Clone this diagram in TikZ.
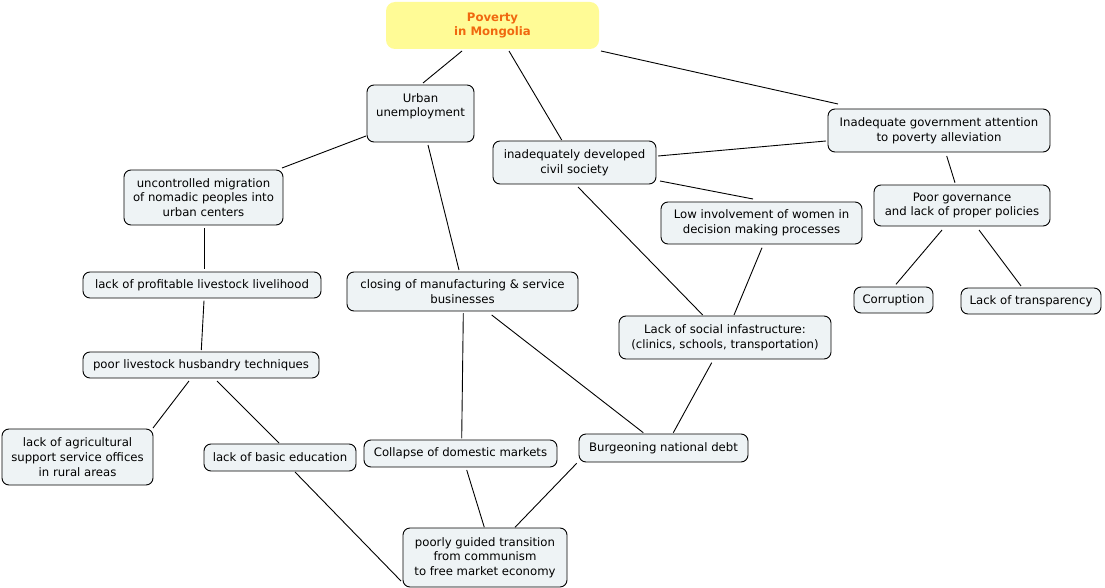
\documentclass[tikz,border=0pt]{standalone}
\usepackage{fontspec}
\setmainfont{DejaVu Sans}
\usetikzlibrary{calc}
\definecolor{boxfill}{HTML}{EEF3F5}
\definecolor{rootfill}{HTML}{FFFB96}
\definecolor{roottext}{HTML}{F0680F}
\tikzset{
  box/.style={draw=black, line width=0.9pt, fill=boxfill, rounded corners=7pt,
    align=center, inner sep=0pt, font=\fontsize{11.7}{14.7}\selectfont},
  rootbox/.style={fill=rootfill, rounded corners=9pt, align=center, inner sep=0pt,
    text=roottext, font=\fontsize{11.7}{14.7}\selectfont\bfseries},
  link/.style={draw=black, line width=0.9pt}
}
\begin{document}
\begin{tikzpicture}[x=1pt,y=-1pt]
\useasboundingbox (0,0) rectangle (1105,588);
\node[rootbox, minimum width=213pt, minimum height=47pt] (root) at (492.5,25.5) {Poverty\\in Mongolia};
\node[box, minimum width=107pt, minimum height=57pt] (urban) at (420.5,113.5) {Urban\\unemployment\\[2pt]\mbox{}};
\node[box, minimum width=163pt, minimum height=43pt] (civil) at (574.5,162.5) {inadequately developed\\civil society};
\node[box, minimum width=159pt, minimum height=55pt] (mig) at (203.5,197.5) {uncontrolled migration\\of nomadic peoples into\\urban centers};
\node[box, minimum width=238pt, minimum height=26pt] (prof) at (202,285) {lack of profitable livestock livelihood};
\node[box, minimum width=236pt, minimum height=26pt] (hus) at (201,365) {poor livestock husbandry techniques};
\node[box, minimum width=151pt, minimum height=56pt] (agri) at (77.5,457) {lack of agricultural\\support service offices\\in rural areas};
\node[box, minimum width=152pt, minimum height=27pt] (edu) at (280,457.5) {lack of basic education};
\node[box, minimum width=231pt, minimum height=39pt] (closing) at (462.5,291.5) {closing of manufacturing \& service\\businesses};
\node[box, minimum width=193pt, minimum height=27pt] (collapse) at (460.5,453.5) {Collapse of domestic markets};
\node[box, minimum width=169pt, minimum height=28pt] (burg) at (663.5,448) {Burgeoning national debt};
\node[box, minimum width=164pt, minimum height=59pt] (poorly) at (485,557.5) {poorly guided transition\\from communism\\to free market economy};
\node[box, minimum width=201pt, minimum height=42pt] (low) at (761.5,223) {Low involvement of women in\\decision making processes};
\node[box, minimum width=212pt, minimum height=43pt] (social) at (725,337.5) {Lack of social infastructure:\\(clinics, schools, transportation)};
\node[box, minimum width=222pt, minimum height=43pt] (inad) at (939,130.5) {Inadequate government attention\\to poverty alleviation};
\node[box, minimum width=176pt, minimum height=41pt] (gov) at (962,205.5) {Poor governance\\and lack of proper policies};
\node[box, minimum width=79pt, minimum height=26pt] (corr) at (893.5,300) {Corruption};
\node[box, minimum width=140pt, minimum height=26pt] (transp) at (1031,301) {Lack of transparency};

\draw[link] ($(root.center)+(-30.5,25.5)$) -- ($(urban.center)+(2.5,-30.5)$);
\draw[link] ($(root.center)+(16.5,25.5)$) -- ($(civil.center)+(-12.8,-22.5)$);
\draw[link] ($(root.center)+(108.5,25.5)$) -- ($(inad.center)+(-101,-26.5)$);
\draw[link] ($(urban.center)+(-54.5,22.5)$) -- ($(mig.center)+(78.5,-29.5)$);
\draw[link] ($(urban.center)+(7.5,31.5)$) -- ($(closing.center)+(-3.5,-21.5)$);
\draw[link] ($(civil.center)+(83.5,-6.5)$) -- ($(inad.center)+(-113,10.5)$);
\draw[link] ($(civil.center)+(85.5,18.5)$) -- ($(low.center)+(-8.5,-24)$);
\draw[link] ($(civil.center)+(3.5,24.5)$) -- ($(social.center)+(-22.3,-22.5)$);
\draw[link] ($(low.center)+(0.5,24.7)$) -- ($(social.center)+(9,-22.5)$);
\draw[link] ($(inad.center)+(7.7,25.5)$) -- ($(gov.center)+(-7,-22.8)$);
\draw[link] ($(gov.center)+(-20,24.5)$) -- ($(corr.center)+(2.5,-15.7)$);
\draw[link] ($(gov.center)+(17,24.5)$) -- ($(transp.center)+(-10,-15)$);
\draw[link] ($(mig.center)+(0.8,30.5)$) -- ($(prof.center)+(2.3,-15.7)$);
\draw[link] ($(prof.center)+(2,15.7)$) -- ($(hus.center)+(0.3,-15)$);
\draw[link] ($(hus.center)+(-12,16)$) -- ($(agri.center)+(75.5,-29)$);
\draw[link] ($(hus.center)+(16,16)$) -- ($(edu.center)+(-1,-14.5)$);
\draw[link] ($(edu.center)+(15,14.5)$) -- ($(poorly.center)+(-84,23.5)$);
\draw[link] ($(closing.center)+(0.8,21.8)$) -- ($(collapse.center)+(1.2,-15.2)$);
\draw[link] ($(closing.center)+(29.2,23.5)$) -- ($(burg.center)+(-20.2,-15.3)$);
\draw[link] ($(social.center)+(-13.3,25.2)$) -- ($(burg.center)+(9.8,-15.3)$);
\draw[link] ($(collapse.center)+(6.2,16.5)$) -- ($(poorly.center)+(-0.7,-30.2)$);
\draw[link] ($(burg.center)+(-86.8,15.3)$) -- ($(poorly.center)+(30,-30.2)$);
\end{tikzpicture}
\end{document}
